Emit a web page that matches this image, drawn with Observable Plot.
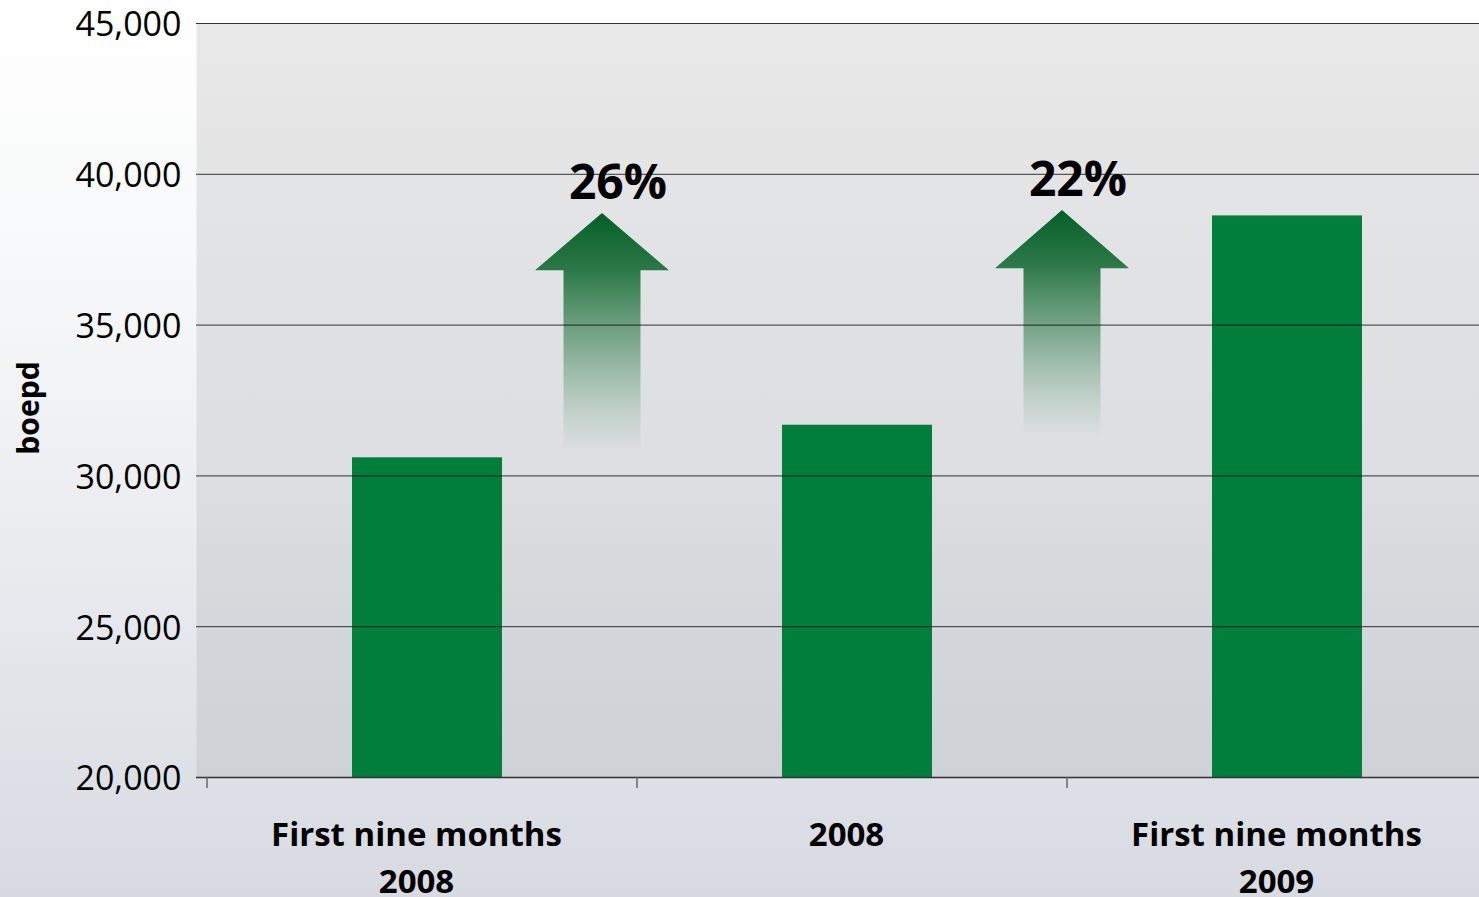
<!DOCTYPE html>
<html>
<head>
<meta charset="utf-8">
<script src="https://cdn.jsdelivr.net/npm/d3@7"></script>
<script src="https://cdn.jsdelivr.net/npm/@observablehq/plot@0.6"></script>
<style>
html, body { margin: 0; padding: 0; }
body {
  width: 1479px; height: 897px; overflow: hidden;
  background: linear-gradient(180deg, #ffffff 0%, #f7f8f9 30%, #eceef1 55%, #e0e3e8 80%, #d7dae0 100%);
  font-family: "Open Sans", sans-serif;
}
#defs { position: absolute; width: 0; height: 0; }
</style>
</head>
<body>
<svg id="defs" aria-hidden="true">
  <defs>
    <linearGradient id="plotBg" x1="0" y1="0" x2="0" y2="1">
      <stop offset="0" stop-color="#e8e8e8"/>
      <stop offset="0.4" stop-color="#e0e1e3"/>
      <stop offset="0.6" stop-color="#dcdee1"/>
      <stop offset="0.85" stop-color="#d2d5d9"/>
      <stop offset="1" stop-color="#ced1d6"/>
    </linearGradient>
    <linearGradient id="arrowFade" x1="0" y1="0" x2="0" y2="1">
      <stop offset="0" stop-color="#045e28" stop-opacity="1"/>
      <stop offset="0.24" stop-color="#22733f" stop-opacity="0.95"/>
      <stop offset="0.55" stop-color="#3d8457" stop-opacity="0.6"/>
      <stop offset="0.85" stop-color="#5e9a74" stop-opacity="0.2"/>
      <stop offset="1" stop-color="#6a9c7c" stop-opacity="0"/>
    </linearGradient>
  </defs>
</svg>
<div id="chart"></div>
<script>
// ---- data ----
const categories = ["First nine months 2008", "2008", "First nine months 2009"];
const categoryLabels = ["First nine months\n2008", "2008", "First nine months\n2009"];
const production = [30600, 31680, 38620];
const yTicks = [20000, 25000, 30000, 35000, 40000, 45000];
const yLabel = "boepd";
const growthLabels = ["26%", "22%"];
const growthTo = [categories[1], categories[2]];
const arrowTip = [38700, 38800];
const arrowNeck = [36800, 36870];
const arrowBase = [30800, 31300];

const data = categories.map((c, i) => ({category: c, value: production[i], label: categoryLabels[i]}));
const arrows = growthLabels.map((l, i) => ({label: l, to: growthTo[i], tip: arrowTip[i], neck: arrowNeck[i], base: arrowBase[i]}));

const arrowShift = [-35, -5];
const headHalf = 67, shaftHalf = 38.5;

function arrowsMark(index, scales) {
  const {x, y} = scales;
  const g = d3.create("svg:g");
  arrows.forEach((a, i) => {
    const cx = x(a.to) + arrowShift[i];
    const yt = y(a.tip), yn = y(a.neck), yb = y(a.base);
    g.append("path")
      .attr("d", `M${cx},${yt}L${cx + headHalf},${yn}L${cx + shaftHalf},${yn}L${cx + shaftHalf},${yb}L${cx - shaftHalf},${yb}L${cx - shaftHalf},${yn}L${cx - headHalf},${yn}Z`)
      .attr("fill", "url(#arrowFade)");
  });
  return g.node();
}

function arrowLabels(index, scales) {
  const {x, y} = scales;
  const g = d3.create("svg:g");
  arrows.forEach((a, i) => {
    const cx = x(a.to) + arrowShift[i];
    g.append("text")
      .attr("x", cx + 16)
      .attr("y", y(a.tip) - 14)
      .attr("text-anchor", "middle")
      .attr("font-size", 48)
      .attr("font-weight", "bold")
      .attr("fill", "#000")
      .text(a.label);
  });
  return g.node();
}

function xTicks(index, scales) {
  const {x, y} = scales;
  const g = d3.create("svg:g");
  const y0 = y(yTicks[0]);
  categories.forEach(c => {
    g.append("line")
      .attr("x1", x(c)).attr("x2", x(c))
      .attr("y1", y0).attr("y2", y0 + 11)
      .attr("stroke", "#555").attr("stroke-width", 1.3);
  });
  return g.node();
}

function yAxisLabel(index, scales) {
  const {y} = scales;
  const cy = (y(yTicks[0]) + y(yTicks[yTicks.length - 1])) / 2 + 8;
  const g = d3.create("svg:g");
  g.append("text")
    .attr("transform", `translate(28,${cy}) rotate(-90)`)
    .attr("text-anchor", "middle")
    .attr("dy", "0.35em")
    .attr("font-size", 30)
    .attr("font-weight", "bold")
    .attr("fill", "#000")
    .text(yLabel);
  return g.node();
}

const chart = Plot.plot({
  width: 1479,
  height: 897,
  marginTop: 23,
  marginBottom: 120,
  marginLeft: 196,
  marginRight: 0,
  style: {background: "transparent", fontFamily: "'Open Sans', sans-serif", overflow: "visible"},
  x: {type: "band", domain: categories, range: [206.7, 1497], padding: 0, axis: null},
  y: {domain: [20000, 45000], axis: null},
  marks: [
    Plot.frame({fill: "url(#plotBg)", stroke: "none"}),
    Plot.barY(data, {x: "category", y1: 20000, y2: "value", fill: "#017d3c", insetLeft: 145, insetRight: 135}),
    arrowsMark,
    Plot.ruleY(yTicks.slice(1), {stroke: "#000", strokeOpacity: 0.78, strokeWidth: 1}),
    Plot.ruleY(yTicks.slice(0, 1), {stroke: "#333", strokeWidth: 1.6}),
    xTicks,
    Plot.text(yTicks, {y: d => d, text: d => d3.format(",")(d), frameAnchor: "left", textAnchor: "end", dx: -15, dy: 2, fontSize: 34, fill: "#000"}),
    Plot.text(data, {x: "category", text: "label", frameAnchor: "bottom", lineAnchor: "top", dy: 35, dx: -6, fontSize: 33, fontWeight: "bold", lineHeight: 1.42, fill: "#000"}),
    yAxisLabel,
    arrowLabels
  ]
});
document.getElementById("chart").append(chart);
</script>
</body>
</html>
